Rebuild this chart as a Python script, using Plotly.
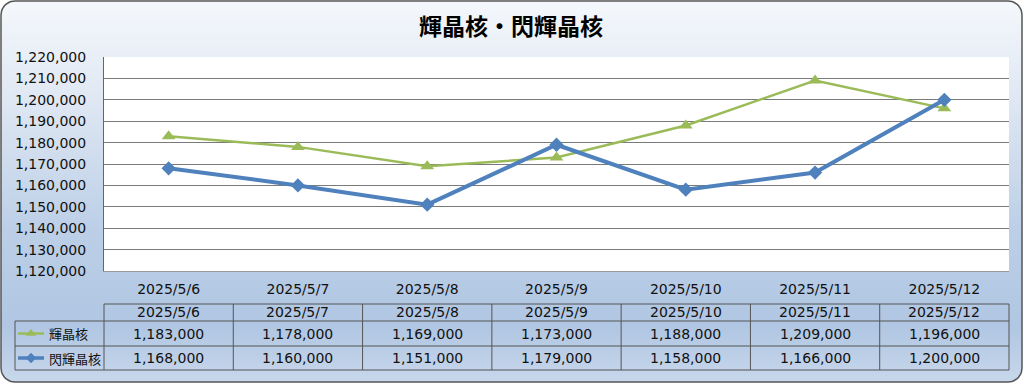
import numpy as np
import plotly.graph_objects as go

# ---- data ----
categories = ["2025/5/6", "2025/5/7", "2025/5/8", "2025/5/9", "2025/5/10", "2025/5/11", "2025/5/12"]
series_names = ["輝晶核", "閃輝晶核"]
kishoukaku = [1183000, 1178000, 1169000, 1173000, 1188000, 1209000, 1196000]
senkishoukaku = [1168000, 1160000, 1151000, 1179000, 1158000, 1166000, 1200000]
y_min, y_max, y_step = 1120000, 1220000, 10000
title_text = "輝晶核・閃輝晶核"

# ---- style ----
W, H = 1024, 384
PL, PR, PT, PB = 104, 1009, 57, 271          # plot area (pixels)
GREEN, BLUE = "#9BBB59", "#4F81BD"
FONT = "DejaVu Sans, Noto Sans CJK JP"
CJK = "Noto Sans CJK JP"
LINE = "#555555"

fig = go.Figure()

# rounded rectangle background (pixel coordinates on hidden axes x/y)
def rounded_rect(x0, y0, x1, y1, r, n=12):
    pts = []
    corners = [(x1 - r, y0 + r, -90, 0), (x1 - r, y1 - r, 0, 90),
               (x0 + r, y1 - r, 90, 180), (x0 + r, y0 + r, 180, 270)]
    for cx, cy, a0, a1 in corners:
        for a in np.linspace(np.radians(a0), np.radians(a1), n):
            pts.append((cx + r * np.cos(a), cy + r * np.sin(a)))
    pts.append(pts[0])
    xs, ys = zip(*pts)
    return list(xs), list(ys)

bx, by = rounded_rect(1, 1, 1022, 382, 14)
fig.add_trace(go.Scatter(
    x=bx, y=by, mode="lines", fill="toself",
    line=dict(color=LINE, width=1.5),
    fillgradient=dict(type="vertical", start=0, stop=H,
                      colorscale=[[0, "#F5F8FC"], [0.25, "#E0E8F3"], [0.6, "#BCCFE7"],
                                  [0.85, "#B0C6E2"], [1, "#C9D8EC"]]),
    hoverinfo="skip", showlegend=False, xaxis="x", yaxis="y"))

# white plot area
fig.add_trace(go.Scatter(
    x=[PL, PR, PR, PL, PL], y=[PT, PT, PB, PB, PT], mode="lines", fill="toself",
    fillcolor="white", line=dict(width=0, color="white"),
    hoverinfo="skip", showlegend=False, xaxis="x", yaxis="y"))

# ---- main chart (x2/y2) ----
fig.add_trace(go.Scatter(
    x=categories, y=kishoukaku, name=series_names[0], mode="lines+markers",
    line=dict(color=GREEN, width=2.5), marker=dict(symbol="triangle-up", size=12, color=GREEN),
    xaxis="x2", yaxis="y2", showlegend=False))
fig.add_trace(go.Scatter(
    x=categories, y=senkishoukaku, name=series_names[1], mode="lines+markers",
    line=dict(color=BLUE, width=4), marker=dict(symbol="diamond", size=11, color=BLUE),
    xaxis="x2", yaxis="y2", showlegend=False))

# ---- data table ----
n = len(categories)
cw = (PR - PL) / n
T_HEAD, T_R1, T_R2, T_BOT = 304, 321, 346, 370
T_LEFT = 15
shapes = []
def hline(x0, x1, y):
    shapes.append(dict(type="line", xref="x", yref="y", x0=x0, x1=x1, y0=y, y1=y,
                       line=dict(color=LINE, width=1)))
def vline(x, y0, y1):
    shapes.append(dict(type="line", xref="x", yref="y", x0=x, x1=x, y0=y0, y1=y1,
                       line=dict(color=LINE, width=1)))
hline(PL, PR, T_HEAD)
for yy in (T_R1, T_R2, T_BOT):
    hline(T_LEFT, PR, yy)
for k in range(n + 1):
    vline(PL + k * cw, T_HEAD, T_BOT)
vline(T_LEFT, T_R1, T_BOT)

annotations = []
row_y = [(T_R1 + T_R2) / 2, (T_R2 + T_BOT) / 2]
for i, c in enumerate(categories):
    cx = PL + (i + 0.5) * cw
    annotations.append(dict(x=cx, y=(T_HEAD + T_R1) / 2 - 1, xref="x", yref="y", text=c,
                            showarrow=False, font=dict(family=FONT, size=14, color="#111")))
    for vals, ry in zip((kishoukaku, senkishoukaku), row_y):
        annotations.append(dict(x=cx, y=ry, xref="x", yref="y", text=f"{vals[i]:,}",
                                showarrow=False, font=dict(family=FONT, size=14, color="#111")))

# legend keys inside table
for name, ry, col, sym, lw, ms in ((series_names[0], row_y[0], GREEN, "triangle-up", 2.5, 9),
                                   (series_names[1], row_y[1], BLUE, "diamond", 3.5, 8)):
    fig.add_trace(go.Scatter(x=[18, 44], y=[ry, ry], mode="lines", line=dict(color=col, width=lw),
                             hoverinfo="skip", showlegend=False, xaxis="x", yaxis="y"))
    fig.add_trace(go.Scatter(x=[31], y=[ry], mode="markers",
                             marker=dict(symbol=sym, size=ms, color=col),
                             hoverinfo="skip", showlegend=False, xaxis="x", yaxis="y"))
    annotations.append(dict(x=47, y=ry, xref="x", yref="y", text=name, xanchor="left",
                            showarrow=False, font=dict(family=CJK, size=13, color="#111")))

# title
annotations.append(dict(x=W / 2 - 1, y=25, xref="x", yref="y", text=f"<b>{title_text}</b>",
                        showarrow=False, font=dict(family=CJK, size=23, color="#000")))

fig.update_layout(
    width=W, height=H, margin=dict(l=0, r=0, t=0, b=0),
    paper_bgcolor="white", plot_bgcolor="rgba(0,0,0,0)",
    xaxis=dict(domain=[0, 1], range=[0, W], visible=False, fixedrange=True),
    yaxis=dict(domain=[0, 1], range=[H, 0], visible=False, fixedrange=True),
    xaxis2=dict(domain=[PL / W, PR / W], anchor="y2", type="category",
                categoryorder="array", categoryarray=categories, range=[-0.5, n - 0.5],
                showgrid=False, showline=True, linecolor="#999999", linewidth=1,
                ticks="", ticklabelstandoff=5, automargin=False,
                tickfont=dict(family=FONT, size=14, color="#111")),
    yaxis2=dict(domain=[1 - PB / H, 1 - PT / H], anchor="x2", range=[y_min, y_max],
                dtick=y_step, tick0=y_min, tickformat=",", showgrid=True,
                gridcolor="#7a7a7a", gridwidth=1, showline=True, linecolor="#666666",
                linewidth=1, ticks="", ticklabelstandoff=14, zeroline=False, automargin=False,
                tickfont=dict(family=FONT, size=14, color="#111")),
    shapes=shapes, annotations=annotations, showlegend=False,
)

fig.write_html("out.html", config={"displayModeBar": False},
               post_script="document.body.style.margin='0';document.body.style.overflow='hidden';")
